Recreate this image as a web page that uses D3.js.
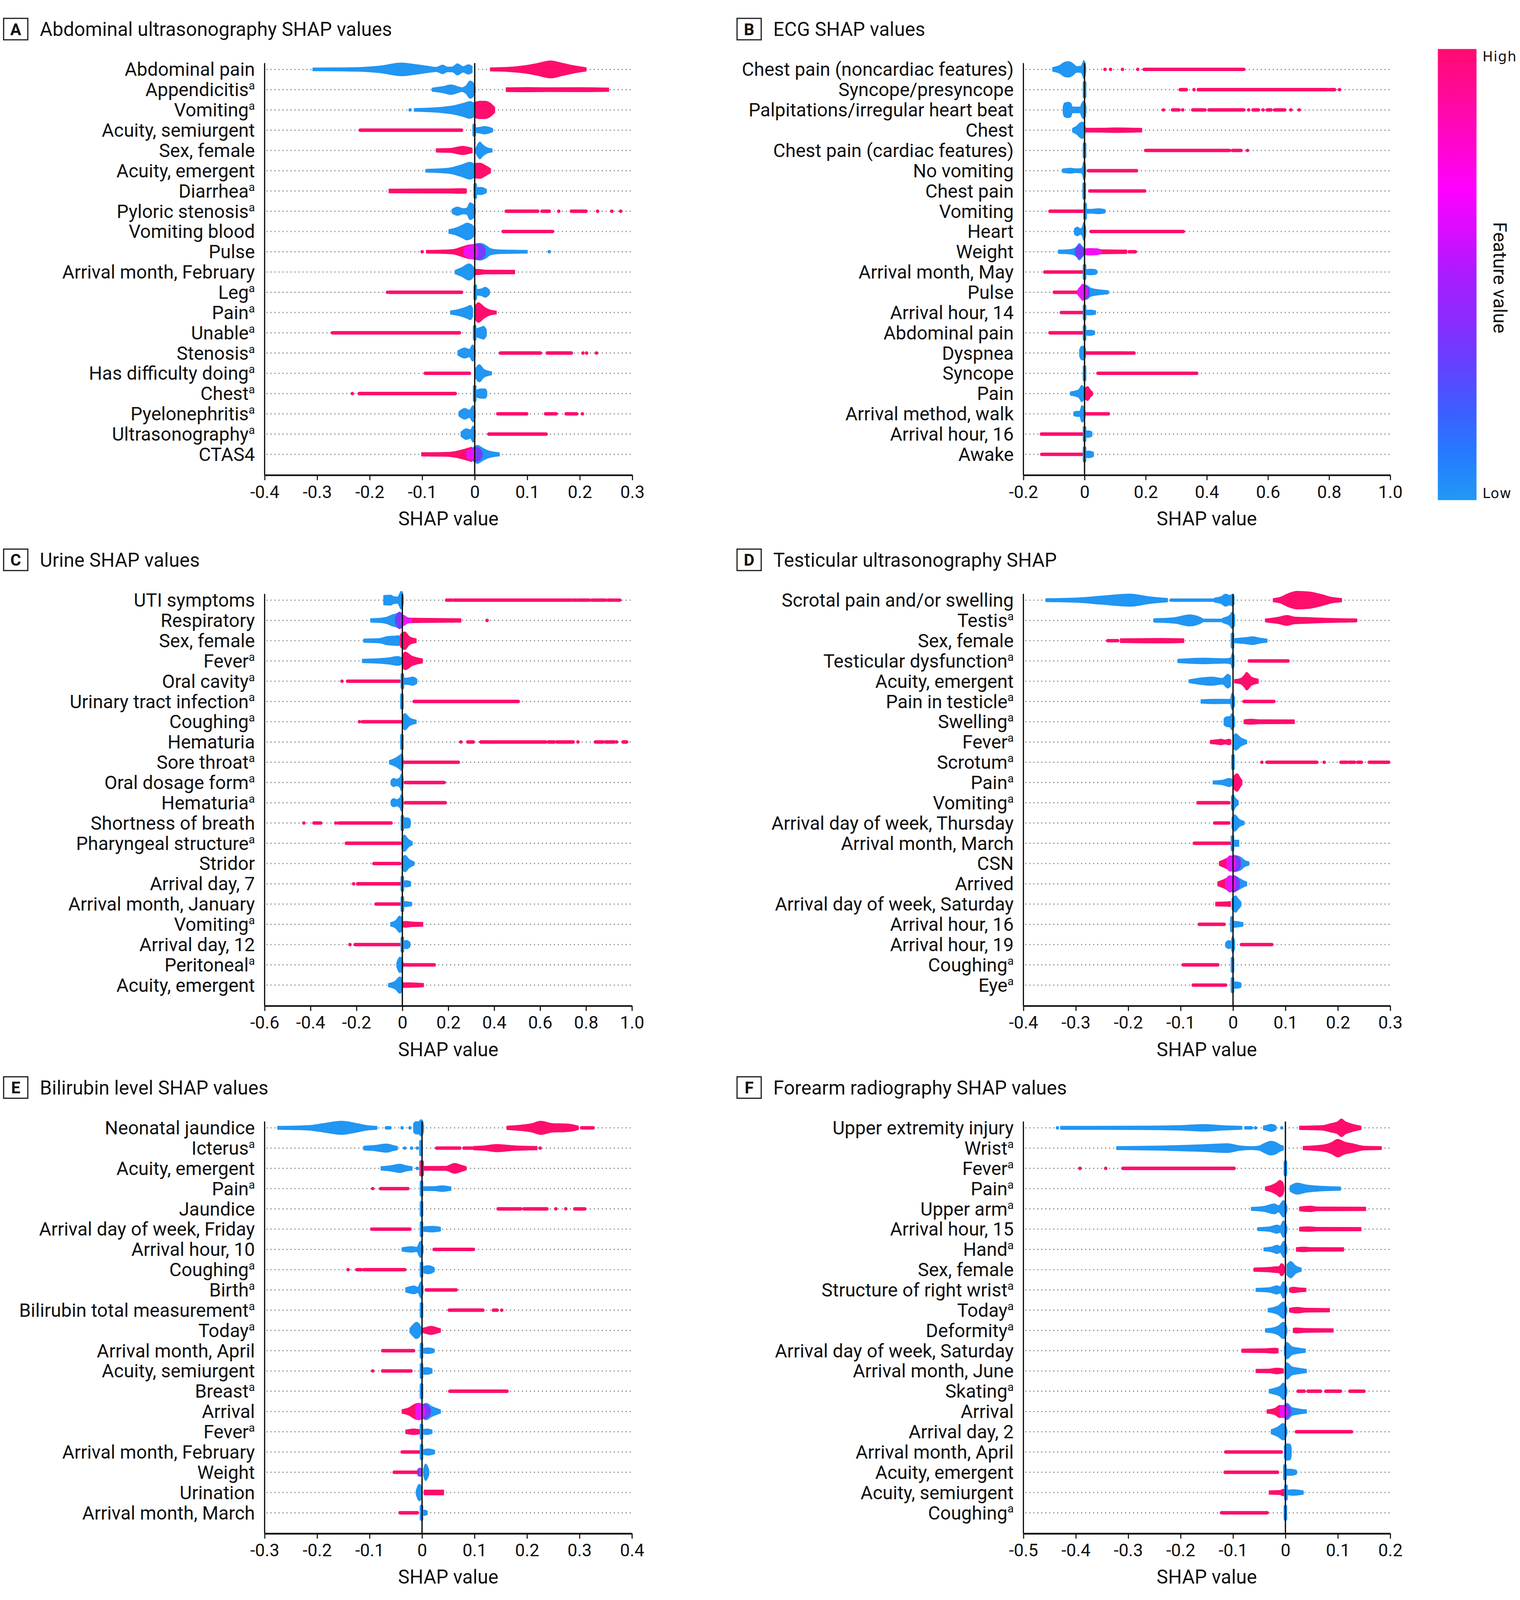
<!DOCTYPE html>
<html>
<head>
<meta charset="utf-8">
<script src="https://cdn.jsdelivr.net/npm/d3@7"></script>
<style>
  html, body { margin: 0; padding: 0; background: #fff; overflow: hidden; }
  svg { display: block; }
  text { font-family: Roboto, "Liberation Sans", sans-serif; fill: #111; }
</style>
</head>
<body>
<script>
// ---- data ---------------------------------------------------------------
// segment keys: h = high (red), l = low (blue), m / p = mid values (magenta / purple)
// suffix: none = density profile [x, density, x, density ...], "-" = run of points x0..x1,
// "." = single points, "!" = stacked column of points at x with a density
var titles = ["Abdominal ultrasonography SHAP values", "ECG SHAP values", "Urine SHAP values",
  "Testicular ultrasonography SHAP", "Bilirubin level SHAP values", "Forearm radiography SHAP values"];
var letters = ["A", "B", "C", "D", "E", "F"];

var ticksA = [-0.4, -0.3, -0.2, -0.1, 0, 0.1, 0.2, 0.3];
var ticksB = [-0.2, 0, 0.2, 0.4, 0.6, 0.8, 1.0];
var ticksC = [-0.6, -0.4, -0.2, 0, 0.2, 0.4, 0.6, 0.8, 1.0];
var ticksD = [-0.4, -0.3, -0.2, -0.1, 0, 0.1, 0.2, 0.3];
var ticksE = [-0.3, -0.2, -0.1, 0, 0.1, 0.2, 0.3, 0.4];
var ticksF = [-0.5, -0.4, -0.3, -0.2, -0.1, 0, 0.1, 0.2];

var labelsA = ["Abdominal pain", "Appendicitis^a", "Vomiting^a", "Acuity, semiurgent", "Sex, female",
  "Acuity, emergent", "Diarrhea^a", "Pyloric stenosis^a", "Vomiting blood", "Pulse",
  "Arrival month, February", "Leg^a", "Pain^a", "Unable^a", "Stenosis^a", "Has difficulty doing^a",
  "Chest^a", "Pyelonephritis^a", "Ultrasonography^a", "CTAS4"];
var shapesA = [
  [["l", -0.308,1.3, -0.25,1.5, -0.218,1.8, -0.18,3.2, -0.14,6.2, -0.11,4.5, -0.089,3, -0.073,2, -0.061,4.2, -0.052,2.2, -0.042,2.4, -0.033,5.4, -0.022,2.6, -0.012,4.6, -0.005,3],
   ["h", 0.03,1.5, 0.064,2, 0.096,3.6, 0.12,5.8, 0.144,8.3, 0.168,5.8, 0.192,3.2, 0.212,1.6]],
  [["l", -0.081,1.5, -0.06,3, -0.045,4.6, -0.033,3, -0.025,1.8, -0.016,4, -0.009,8.4, -0.002,6, 0.001,2],
   ["h", 0.06,1.8, 0.1,2, 0.14,1.8, 0.2,1.9, 0.255,1.6]],
  [["l.", -0.123], ["l", -0.115,1.3, -0.065,2.5, -0.041,4, -0.021,6.5, -0.009,8.2, 0.0,6],
   ["h", 0.001,7.5, 0.01,8.5, 0.019,8.5, 0.028,7, 0.038,2.5]],
  [["h-", -0.218, -0.025], ["l!", -0.001, 6.5], ["l", 0.0,2, 0.012,3, 0.019,3.6, 0.026,3, 0.034,1.5]],
  [["h", -0.073,1.6, -0.045,2, -0.03,3.5, -0.022,4, -0.012,3, -0.005,2.2],
   ["l", 0.002,2, 0.006,6, 0.01,8.2, 0.014,6, 0.022,3, 0.033,1.5]],
  [["l", -0.093,1.3, -0.049,2.5, -0.025,5.7, -0.009,8.2, 0.0,6],
   ["h", 0.0,7, 0.01,7.4, 0.02,5, 0.03,2]],
  [["h", -0.163,1.8, -0.05,2, -0.02,2.3, -0.016,2], ["l!", 0.001, 7.9], ["l", 0.001,3, 0.012,3.5, 0.022,1.6]],
  [["l", -0.043,1.8, -0.033,4, -0.022,2.5, -0.015,3, -0.009,8.2, -0.002,6, 0.001,2],
   ["h-", 0.06, 0.12], ["h-", 0.128, 0.142], ["h-", 0.184, 0.212], ["h.", 0.16, 0.234, 0.261, 0.278]],
  [["l", -0.049,1.8, -0.035,3.5, -0.022,6.5, -0.015,8.2, -0.007,7, 0.001,3], ["h-", 0.054, 0.148]],
  [["l", -0.01,3, 0.0,7, 0.01,8.2, 0.02,6.5, 0.03,3, 0.045,1.8, 0.07,1.5, 0.1,1.3], ["l.", 0.142],
   ["h.", -0.1], ["h", -0.092,1.3, -0.06,1.6, -0.04,2.2, -0.025,4.5, -0.012,6.5, -0.002,7],
   ["p", -0.01,3, 0.0,7.5, 0.012,7, 0.02,3], ["m", -0.02,3, -0.01,6, -0.002,7, 0.006,4]],
  [["l", -0.037,1.7, -0.024,4.4, -0.011,7.9, -0.003,5, 0.0,2], ["h", 0.002,2.6, 0.01,2.4, 0.02,1.8, 0.076,1.7]],
  [["h.", -0.166], ["h-", -0.162, -0.025], ["l!", 0.001, 7.9], ["l", 0.001,2.5, 0.014,3.5, 0.02,4.9, 0.028,2]],
  [["l", -0.046,1.5, -0.03,3, -0.015,5.5, -0.008,7, -0.004,4], ["h", 0.0,6, 0.007,9.6, 0.018,5.3, 0.028,2.6, 0.041,1.4]],
  [["h-", -0.271, -0.029], ["l!", 0.0, 7.9], ["l", 0.0,3, 0.012,5.5, 0.017,6.2, 0.022,3]],
  [["l", -0.032,2, -0.019,4.9, -0.01,3.5, -0.004,7.9, 0.001,3],
   ["h-", 0.049, 0.125], ["h-", 0.138, 0.184], ["h.", 0.206, 0.213, 0.232]],
  [["h-", -0.094, -0.01], ["l", 0.001,4, 0.009,8.4, 0.017,4, 0.032,1.5]],
  [["h.", -0.233], ["h-", -0.22, -0.037], ["l!", 0.0, 8.4], ["l", 0.0,2.5, 0.012,4.5, 0.02,4.5, 0.023,2]],
  [["l", -0.03,2, -0.019,5.2, -0.01,3.5, -0.003,7.9, 0.001,3],
   ["h-", 0.044, 0.099], ["h-", 0.135, 0.155], ["h-", 0.174, 0.194], ["h.", 0.205]],
  [["l", -0.026,2, -0.016,5.2, -0.008,4, -0.003,7.9, 0.001,3], ["h-", 0.027, 0.136]],
  [["h", -0.101,1.6, -0.06,1.8, -0.04,2.5, -0.019,5, -0.006,7],
   ["l", -0.005,4, 0.005,8.8, 0.015,6, 0.025,3.5, 0.047,1.5],
   ["p", -0.01,3, 0.0,7, 0.008,6, 0.014,2], ["m", -0.015,3, -0.007,5, 0.0,4]]
];

var labelsB = ["Chest pain (noncardiac features)", "Syncope/presyncope", "Palpitations/irregular heart beat",
  "Chest", "Chest pain (cardiac features)", "No vomiting", "Chest pain", "Vomiting", "Heart", "Weight",
  "Arrival month, May", "Pulse", "Arrival hour, 14", "Abdominal pain", "Dyspnea", "Syncope", "Pain",
  "Arrival method, walk", "Arrival hour, 16", "Awake"];
var shapesB = [
  [["l", -0.104,1.8, -0.08,4, -0.065,7, -0.052,7.5, -0.04,6, -0.025,2.7, -0.012,3, -0.006,6, -0.003,8.6, 0.002,6, 0.004,1.5],
   ["h.", 0.067, 0.085, 0.124, 0.174], ["h-", 0.195, 0.244], ["h-", 0.248, 0.521]],
  [["l!", 0.0, 8.6], ["h-", 0.313, 0.333], ["h.", 0.358, 0.834], ["h-", 0.372, 0.793], ["h-", 0.8, 0.818]],
  [["l", -0.07,2.5, -0.066,6.5, -0.054,7.5, -0.045,6.5, -0.04,2.7, -0.015,2.7, -0.008,7, -0.003,8.6, 0.003,6, 0.005,1.5],
   ["h.", 0.258, 0.321, 0.537, 0.584, 0.675, 0.702], ["h-", 0.288, 0.309], ["h-", 0.354, 0.394],
   ["h-", 0.407, 0.521], ["h-", 0.551, 0.569], ["h-", 0.598, 0.61], ["h-", 0.622, 0.655]],
  [["l", -0.039,1.8, -0.025,4, -0.015,7, -0.008,8, -0.002,7, 0.003,2], ["h", 0.005,1.8, 0.06,1.9, 0.1,2.2, 0.13,2.1, 0.187,1.7]],
  [["l!", 0.0, 8], ["h-", 0.2, 0.474], ["h-", 0.484, 0.512], ["h.", 0.533]],
  [["l", -0.072,1.6, -0.055,2.2, -0.046,2.4, -0.03,1.8, -0.012,2, -0.006,4, -0.003,8.6, 0.002,7, 0.004,1.5], ["h-", 0.013, 0.17]],
  [["l!", -0.001, 8.6], ["h-", 0.017, 0.197]],
  [["h-", -0.113, -0.007], ["l!", 0.002, 8.6], ["l", 0.002,2, 0.02,1.8, 0.044,2.4, 0.06,2, 0.067,1.5]],
  [["l", -0.033,2.5, -0.023,4.3, -0.014,2.5, -0.006,5, -0.003,8.6, 0.002,6, 0.004,1.5], ["h-", 0.021, 0.323]],
  [["l", -0.085,1.6, -0.06,1.8, -0.04,2.5, -0.025,5, -0.017,8, -0.01,6, 0.0,2.5],
   ["p", -0.03,2, -0.018,6.5, -0.008,4, 0.0,2],
   ["h", -0.002,2, 0.01,2.5, 0.04,2, 0.138,1.6], ["h-", 0.146, 0.166],
   ["m", 0.0,2.5, 0.012,3.2, 0.04,3, 0.055,1.8]],
  [["h-", -0.13, -0.007], ["l!", 0.0, 8], ["l", 0.0,2, 0.02,2.7, 0.035,2.3, 0.04,1.5]],
  [["h-", -0.099, -0.02], ["l", -0.02,2, -0.005,5, 0.005,7, 0.02,4, 0.04,2.7, 0.06,2, 0.078,1.5],
   ["p", -0.015,3, -0.006,7, 0.005,6, 0.015,3], ["m", -0.022,2.5, -0.012,6, -0.006,8, 0.0,6, 0.008,3]],
  [["h-", -0.076, -0.007], ["l!", 0.0, 8], ["l", 0.0,2, 0.02,2.3, 0.036,1.5]],
  [["h-", -0.113, -0.007], ["l!", 0.0, 8], ["l", 0.0,2, 0.02,2.5, 0.033,1.5]],
  [["l", -0.016,3, -0.01,6.5, -0.003,6.7, 0.002,5, 0.004,1.5], ["h-", 0.005, 0.139], ["h-", 0.146, 0.162]],
  [["l!", 0.0, 8], ["h-", 0.044, 0.367]],
  [["l", -0.046,1.6, -0.03,2.5, -0.018,4, -0.009,8, -0.003,6], ["h", 0.0,5, 0.01,6.7, 0.02,3, 0.026,1.6]],
  [["l", -0.035,1.6, -0.025,2.5, -0.015,2.5, -0.009,8, -0.003,7, 0.003,1.5], ["h-", 0.007, 0.078]],
  [["h-", -0.141, -0.007], ["l!", 0.0, 8], ["l", 0.0,2.5, 0.012,3.2, 0.024,2]],
  [["h-", -0.14, -0.007], ["l!", 0.0, 8], ["l", 0.0,2.5, 0.015,3.2, 0.029,2]]
];

var labelsC = ["UTI symptoms", "Respiratory", "Sex, female", "Fever^a", "Oral cavity^a",
  "Urinary tract infection^a", "Coughing^a", "Hematuria", "Sore throat^a", "Oral dosage form^a",
  "Hematuria^a", "Shortness of breath", "Pharyngeal structure^a", "Stridor", "Arrival day, 7",
  "Arrival month, January", "Vomiting^a", "Arrival day, 12", "Peritoneal^a", "Acuity, emergent"];
var shapesC = [
  [["l", -0.081,4.5, -0.05,4.8, -0.04,3.5, -0.02,3, -0.012,6, -0.006,8.6, 0.0,8, 0.004,2],
   ["h-", 0.193, 0.215], ["h-", 0.225, 0.733], ["h-", 0.742, 0.756], ["h-", 0.764, 0.814],
   ["h-", 0.825, 0.885], ["h-", 0.896, 0.923], ["h-", 0.931, 0.947]],
  [["l", -0.138,1.6, -0.1,2, -0.07,3, -0.043,5.4, -0.02,7, -0.012,8, 0.0,5, 0.01,2],
   ["h", -0.005,2, 0.02,2.2, 0.08,2, 0.255,1.6], ["h.", 0.369],
   ["p", -0.03,2.5, -0.013,8, 0.0,6, 0.01,2], ["m", -0.005,3, 0.005,5, 0.02,3, 0.04,2]],
  [["l", -0.168,1.6, -0.1,2.1, -0.065,4, -0.03,4.5, -0.015,4.8, -0.008,2], ["h", -0.008,6, 0.011,8.6, 0.03,4, 0.06,1.8]],
  [["l", -0.174,1.6, -0.12,2, -0.06,3, -0.02,4.3, -0.002,3], ["h", 0.0,6, 0.013,8.6, 0.04,4.8, 0.087,2]],
  [["h.", -0.263], ["h-", -0.239, -0.014], ["l!", 0.0, 8], ["l", 0.0,3, 0.02,3, 0.045,4, 0.063,2]],
  [["l!", -0.002, 8], ["h-", 0.051, 0.505]],
  [["h.", -0.187], ["h-", -0.174, -0.005], ["l", 0.0,5, 0.011,8, 0.03,4, 0.06,1.6]],
  [["l!", -0.002, 8], ["h.", 0.255, 0.765, 0.933], ["h-", 0.285, 0.309], ["h-", 0.342, 0.407],
   ["h-", 0.412, 0.624], ["h-", 0.635, 0.662], ["h-", 0.673, 0.744], ["h-", 0.841, 0.874],
   ["h-", 0.885, 0.923], ["h-", 0.961, 0.977]],
  [["l", -0.056,1.6, -0.03,4, -0.01,7, -0.005,8, 0.002,6, 0.004,1.5], ["h-", 0.009, 0.244]],
  [["l", -0.049,2, -0.038,4, -0.025,3, -0.01,5, -0.005,8, 0.002,6, 0.004,1.5], ["h-", 0.013, 0.182]],
  [["l", -0.049,2, -0.038,4, -0.025,3, -0.01,5, -0.005,8, 0.002,6, 0.004,1.5], ["h-", 0.013, 0.187]],
  [["h.", -0.429, -0.29], ["h-", -0.385, -0.356], ["h-", -0.277, -0.049],
   ["l!", 0.0, 8], ["l", 0.0,5, 0.015,5, 0.03,4.5, 0.035,2]],
  [["h-", -0.244, -0.009], ["l", -0.002,5, 0.009,8, 0.025,4, 0.043,1.6]],
  [["h-", -0.124, -0.011], ["l", -0.002,5, 0.011,8, 0.03,4, 0.051,1.6]],
  [["h.", -0.212], ["h-", -0.195, -0.009], ["l!", 0.0, 8], ["l", 0.0,2.5, 0.02,3, 0.036,2]],
  [["h-", -0.115, -0.009], ["l!", 0.0, 8], ["l", 0.0,2.5, 0.02,2.3, 0.041,1.5]],
  [["l", -0.051,1.6, -0.03,3.5, -0.011,8, -0.002,6], ["h", 0.0,2.5, 0.011,2.8, 0.04,2.2, 0.089,1.8]],
  [["h.", -0.228], ["h-", -0.206, -0.013], ["l!", 0.0, 8], ["l", 0.0,3, 0.02,4, 0.033,2]],
  [["l", -0.024,2, -0.011,7.5, -0.003,7, 0.003,2], ["h-", 0.008, 0.139]],
  [["l", -0.06,1.6, -0.03,4, -0.011,8, -0.002,6, 0.003,2], ["h", 0.0,2, 0.02,2.2, 0.06,2, 0.092,1.6]]
];

var labelsD = ["Scrotal pain and/or swelling", "Testis^a", "Sex, female", "Testicular dysfunction^a",
  "Acuity, emergent", "Pain in testicle^a", "Swelling^a", "Fever^a", "Scrotum^a", "Pain^a", "Vomiting^a",
  "Arrival day of week, Thursday", "Arrival month, March", "CSN", "Arrived", "Arrival day of week, Saturday",
  "Arrival hour, 16", "Arrival hour, 19", "Coughing^a", "Eye^a"];
var shapesD = [
  [["l", -0.357,1.4, -0.297,2.1, -0.249,4, -0.197,5.9, -0.159,3.2, -0.125,1.6],
   ["l-", -0.118, -0.087], ["l-", -0.084, -0.058], ["l-", -0.055, -0.035],
   ["l", -0.035,2, -0.022,3.5, -0.014,5.9, -0.006,4.5, -0.002,5.5, 0.002,4],
   ["h", 0.077,1.6, 0.09,2.7, 0.107,6.7, 0.122,8.6, 0.145,8, 0.169,5.4, 0.188,2.7, 0.207,1.6]],
  [["l", -0.151,1.6, -0.111,2.7, -0.083,5.4, -0.062,2.7, -0.058,1.6], ["l-", -0.057, -0.02],
   ["l", -0.02,2, -0.016,2.7, -0.006,5, -0.002,8, 0.003,5],
   ["h", 0.062,1.4, 0.088,3.2, 0.103,4.8, 0.118,3.2, 0.145,2.7, 0.18,2, 0.236,1.4]],
  [["h-", -0.239, -0.22], ["h", -0.215,1.8, -0.135,2.2, -0.094,1.8],
   ["l!", -0.001, 8], ["l", 0.003,2, 0.025,3, 0.038,3.8, 0.05,2.5, 0.065,1.5]],
  [["l", -0.105,1.6, -0.054,2.7, -0.015,2.1, -0.004,3, -0.001,8, 0.002,5], ["h-", 0.031, 0.105]],
  [["l", -0.084,1.3, -0.04,4, -0.02,2.7, -0.01,6.7, -0.005,5],
   ["h", 0.003,1.6, 0.015,2.7, 0.022,6, 0.026,8.6, 0.035,4, 0.048,2]],
  [["l", -0.061,1.6, -0.035,2.1, -0.005,2, -0.002,8, 0.003,4], ["h-", 0.021, 0.078]],
  [["l", -0.017,3, -0.012,4.8, -0.006,5, -0.002,8, 0.003,4], ["h", 0.021,1.8, 0.034,2.4, 0.05,1.9, 0.117,1.8]],
  [["h", -0.043,1.6, -0.03,2.2, -0.023,2.7, -0.015,1.8, -0.008,2.7, -0.004,2], ["l", 0.0,5, 0.005,8, 0.015,4, 0.026,1.6]],
  [["l!", 0.0, 8], ["h.", 0.055, 0.174], ["h-", 0.065, 0.16], ["h-", 0.206, 0.217], ["h-", 0.221, 0.232],
   ["h-", 0.238, 0.245], ["h-", 0.26, 0.297]],
  [["l", -0.038,1.5, -0.02,2.2, -0.007,4, -0.002,3], ["h", 0.001,6, 0.008,8.6, 0.013,5, 0.017,2]],
  [["h-", -0.067, -0.008], ["l", -0.003,6, 0.0,8, 0.005,4, 0.01,2]],
  [["h-", -0.035, -0.008], ["l", -0.002,5, 0.003,8, 0.012,3.5, 0.021,1.6]],
  [["h-", -0.074, -0.007], ["l!", -0.001, 8], ["l", 0.0,3, 0.011,3]],
  [["h", -0.026,1.8, -0.016,4, -0.01,5.5, -0.004,7, 0.002,5], ["l", -0.004,4, 0.005,7.5, 0.015,6, 0.022,3, 0.03,1.8],
   ["p", -0.006,5, 0.002,8, 0.01,6, 0.014,3], ["m", -0.012,4, -0.006,7.5, 0.0,7, 0.005,3]],
  [["h", -0.029,1.8, -0.018,4, -0.01,6, -0.004,7, 0.002,5], ["l", -0.004,4, 0.005,7, 0.013,5, 0.02,3, 0.026,1.8],
   ["p", -0.006,5, 0.002,8, 0.008,6, 0.012,3], ["m", -0.014,4, -0.006,8, 0.0,7, 0.004,3]],
  [["h", -0.033,1.8, -0.01,2.2, -0.005,2.5], ["l", -0.002,5, 0.005,8, 0.01,5, 0.015,2]],
  [["h-", -0.064, -0.017], ["l!", -0.002, 8], ["l", 0.0,3, 0.01,2.5, 0.019,1.6]],
  [["l", -0.014,2, -0.008,4, -0.004,3, -0.001,8, 0.003,4], ["h-", 0.016, 0.074]],
  [["h-", -0.095, -0.029], ["l!", -0.001, 8]],
  [["h-", -0.076, -0.014], ["l!", -0.001, 8], ["l", 0.0,3, 0.008,3, 0.015,2]]
];

var labelsE = ["Neonatal jaundice", "Icterus^a", "Acuity, emergent", "Pain^a", "Jaundice",
  "Arrival day of week, Friday", "Arrival hour, 10", "Coughing^a", "Birth^a", "Bilirubin total measurement^a",
  "Today^a", "Arrival month, April", "Acuity, semiurgent", "Breast^a", "Arrival", "Fever^a",
  "Arrival month, February", "Weight", "Urination", "Arrival month, March"];
var shapesE = [
  [["l", -0.275,1.4, -0.218,2.1, -0.189,4, -0.154,6.4, -0.123,4, -0.104,2.1, -0.086,1.4],
   ["l-", -0.068, -0.061], ["l.", -0.038, -0.023],
   ["l", -0.016,4, -0.012,5.9, -0.006,6, -0.002,8, 0.001,7, 0.003,2],
   ["h", 0.162,1.6, 0.19,2.7, 0.209,4, 0.226,6.4, 0.25,4, 0.271,3.8, 0.285,3.2, 0.298,1.6], ["h-", 0.304, 0.326]],
  [["l", -0.111,1.8, -0.09,2.5, -0.068,4, -0.055,2.5, -0.047,1.6], ["l.", -0.033, -0.02, -0.009], ["l!", -0.002, 8],
   ["h-", 0.028, 0.072], ["h-", 0.08, 0.095], ["h", 0.098,1.6, 0.12,2.2, 0.143,3.5, 0.17,2.4, 0.219,1.6], ["h.", 0.225]],
  [["l", -0.078,1.6, -0.06,2.5, -0.042,4, -0.03,2.5, -0.019,1.6], ["l.", -0.009], ["l!", -0.002, 8],
   ["h!", 0.0, 8], ["h", 0.003,1.8, 0.045,1.9, 0.062,4.8, 0.075,3, 0.084,1.6]],
  [["h.", -0.094], ["h-", -0.079, -0.027], ["l!", -0.001, 8], ["l", 0.0,1.8, 0.025,2, 0.038,2.7, 0.055,1.6]],
  [["l!", -0.001, 8], ["h-", 0.145, 0.188], ["h-", 0.194, 0.209], ["h-", 0.212, 0.238], ["h.", 0.255, 0.274], ["h-", 0.291, 0.31]],
  [["h-", -0.096, -0.023], ["l!", -0.001, 8], ["l", 0.0,2, 0.02,2.7, 0.035,1.8]],
  [["l", -0.038,1.6, -0.02,2.7, -0.01,2, -0.003,8, 0.002,3], ["h-", 0.023, 0.098]],
  [["h.", -0.141], ["h-", -0.124, -0.116], ["h-", -0.111, -0.033], ["l!", -0.001, 8], ["l", 0.0,2.5, 0.012,4, 0.023,2]],
  [["l", -0.031,2, -0.015,3.8, -0.008,2.5, -0.002,8, 0.002,3], ["h-", 0.008, 0.065]],
  [["l!", -0.001, 8], ["h-", 0.052, 0.116], ["h-", 0.136, 0.143], ["h.", 0.152]],
  [["l", -0.023,2, -0.016,6, -0.011,8, -0.005,6, -0.001,2], ["h", 0.001,2, 0.008,3, 0.017,4, 0.026,3, 0.035,1.6]],
  [["h-", -0.075, -0.016], ["l!", -0.001, 8], ["l", 0.0,2, 0.012,2.7, 0.023,1.6]],
  [["h.", -0.094], ["h-", -0.075, -0.021], ["l!", -0.001, 8], ["l", 0.0,3, 0.01,3.2, 0.019,2]],
  [["l!", -0.001, 8], ["h-", 0.053, 0.162]],
  [["h", -0.038,1.8, -0.025,3.5, -0.014,7, -0.006,8, 0.0,6], ["l", -0.004,4, 0.008,8, 0.018,5, 0.035,1.6],
   ["p", -0.004,4, 0.004,7, 0.012,5, 0.016,2], ["m", -0.012,5, -0.006,8, 0.0,7, 0.005,3]],
  [["h", -0.031,1.6, -0.015,2.7, -0.006,2, -0.003,1.6], ["l!", -0.001, 8], ["l", 0.0,2, 0.01,2.7, 0.019,1.6]],
  [["h-", -0.038, -0.003], ["l!", -0.001, 8], ["l", 0.0,2, 0.012,3, 0.024,1.6]],
  [["h-", -0.053, -0.008], ["p", -0.008,3, -0.004,4, 0.0,3], ["l", 0.003,3, 0.007,8, 0.011,5, 0.013,2]],
  [["l", -0.011,2, -0.005,8, 0.0,5], ["h", 0.004,2.3, 0.041,2.3]],
  [["h-", -0.042, -0.009], ["l!", -0.001, 8], ["l", 0.0,2, 0.005,2.5, 0.01,1.6]]
];

var labelsF = ["Upper extremity injury", "Wrist^a", "Fever^a", "Pain^a", "Upper arm^a", "Arrival hour, 15",
  "Hand^a", "Sex, female", "Structure of right wrist^a", "Today^a", "Deformity^a",
  "Arrival day of week, Saturday", "Arrival month, June", "Skating^a", "Arrival", "Arrival day, 2",
  "Arrival month, April", "Acuity, emergent", "Acuity, semiurgent", "Coughing^a"];
var shapesF = [
  [["l.", -0.435], ["l", -0.429,1.4, -0.278,1.6, -0.206,2.1, -0.154,3.2, -0.12,2.1, -0.083,1.4],
   ["l-", -0.076, -0.065], ["l.", -0.057, -0.007],
   ["l", -0.042,1.6, -0.035,2.5, -0.028,3.5, -0.02,2.5, -0.018,1.6],
   ["h", 0.027,1.6, 0.069,2.1, 0.086,4, 0.1,6, 0.107,8.6, 0.114,6, 0.125,4, 0.144,1.6]],
  [["l", -0.322,1.4, -0.23,2.1, -0.159,3.2, -0.111,4.3, -0.087,2.1, -0.065,1.4, -0.05,2, -0.042,4, -0.028,6.7, -0.018,5.5, -0.01,3, -0.004,2],
   ["h", 0.034,1.6, 0.074,3.2, 0.088,5.4, 0.1,8.6, 0.112,6, 0.13,4, 0.15,1.8, 0.183,1.4]],
  [["h.", -0.392, -0.343], ["h-", -0.31, -0.098], ["l!", 0.0, 8]],
  [["h", -0.038,1.6, -0.025,3.5, -0.016,6, -0.011,8, -0.005,6, -0.003,2],
   ["l", 0.009,2.5, 0.022,5.4, 0.04,3.5, 0.06,2.5, 0.105,1.6]],
  [["l", -0.065,1.4, -0.04,2.5, -0.021,4.8, -0.013,3, -0.004,8, 0.001,5, 0.003,1.5],
   ["h", 0.027,1.8, 0.04,2.5, 0.048,2.7, 0.06,1.8, 0.153,1.6]],
  [["l", -0.053,1.4, -0.03,2.2, -0.016,4, -0.01,3, -0.004,8, 0.001,5, 0.003,1.5],
   ["h", 0.027,1.8, 0.045,2.2, 0.06,1.7, 0.144,1.6]],
  [["l", -0.041,1.4, -0.025,2.5, -0.016,4, -0.01,3, -0.003,8, 0.001,5, 0.003,1.5],
   ["h", 0.021,1.7, 0.036,2.2, 0.05,1.7, 0.111,1.6]],
  [["h", -0.06,1.6, -0.03,2.2, -0.021,2.7, -0.012,3, -0.008,5.9, -0.004,5, -0.002,2],
   ["l", 0.003,5, 0.01,8, 0.02,3.5, 0.03,1.6]],
  [["l", -0.056,1.5, -0.03,2.2, -0.016,4, -0.01,3, -0.004,8, 0.001,5, 0.003,1.5],
   ["h", 0.008,1.8, 0.015,2.7, 0.025,2, 0.039,1.6]],
  [["l", -0.033,1.6, -0.02,3, -0.013,4.5, -0.004,8, 0.001,5, 0.003,1.5], ["h", 0.008,1.8, 0.022,2.7, 0.04,1.8, 0.084,1.6]],
  [["l", -0.038,1.6, -0.02,3, -0.013,4.5, -0.004,8, 0.001,5, 0.003,1.5], ["h", 0.015,2, 0.02,2.4, 0.04,1.8, 0.091,1.6]],
  [["h", -0.083,1.6, -0.04,1.8, -0.02,2.4, -0.014,2], ["l", -0.002,4, 0.003,8, 0.012,4, 0.025,2.5, 0.038,1.6]],
  [["h", -0.056,1.6, -0.03,1.8, -0.016,2.7, -0.004,2], ["l", -0.001,4, 0.003,8, 0.012,4, 0.028,2.5, 0.04,1.6]],
  [["l", -0.031,1.6, -0.02,3, -0.01,5, -0.004,8, 0.001,5, 0.003,1.5],
   ["h-", 0.024, 0.036], ["h-", 0.043, 0.067], ["h-", 0.077, 0.105], ["h-", 0.123, 0.15]],
  [["h", -0.035,1.6, -0.02,3, -0.011,5.9, -0.004,5, 0.0,3], ["l", -0.002,4, 0.003,8, 0.012,4, 0.025,2.5, 0.04,1.6],
   ["p", -0.004,4, 0.0,7, 0.006,5, 0.01,2], ["m", -0.01,4, -0.005,6, 0.0,5, 0.003,2]],
  [["l", -0.027,2, -0.015,4.5, -0.004,8, 0.001,5, 0.003,1.5], ["h-", 0.021, 0.126]],
  [["h-", -0.114, -0.008], ["l", -0.002,6, 0.003,8, 0.009,7.5, 0.011,4]],
  [["h-", -0.115, -0.015], ["l!", -0.001, 8], ["l", 0.0,3, 0.01,3, 0.021,1.8]],
  [["h", -0.031,1.6, -0.01,2, -0.004,3.2, -0.001,2], ["l!", 0.001, 8], ["l", 0.002,2, 0.015,2.7, 0.034,1.6]],
  [["h-", -0.122, -0.035], ["l!", 0.0, 8]]
];

// ---- drawing ------------------------------------------------------------
// layout is laid out on a 1258 x 1567.6 grid and stretched to whatever the window offers
var W = window.innerWidth || 3892, H = Math.min(window.innerHeight || 4850, 4850);
var sx = W / 1258, sy = H / 1567.6, fs = sx;
function X(v) { return v * sx; }
function Y(v) { return v * sy; }
function F(v) { return (v * fs) + "px"; }

var svg = d3.select("body").append("svg").attr("width", W).attr("height", H);
svg.append("rect").attr("width", W).attr("height", H).attr("fill", "#fff");

var colors = { h: "#ff0d6c", l: "#2196f3", m: "#f012ff", p: "#7d34ff" };
var thick = d3.scaleLinear().domain([0, 10]).range([0, Y(10)]);
var baseDensity = 1.7;
var rowGap = 19.85;

var panels = [
  { labels: labelsA, shapes: shapesA, ticks: ticksA, bx: 3, top: 68, L: 219, R: 523.3 },
  { labels: labelsB, shapes: shapesB, ticks: ticksB, bx: 610, top: 68, L: 847, R: 1150.6 },
  { labels: labelsC, shapes: shapesC, ticks: ticksC, bx: 3, top: 588, L: 219, R: 523 },
  { labels: labelsD, shapes: shapesD, ticks: ticksD, bx: 610, top: 588, L: 847, R: 1150.6 },
  { labels: labelsE, shapes: shapesE, ticks: ticksE, bx: 3, top: 1105, L: 219, R: 523 },
  { labels: labelsF, shapes: shapesF, ticks: ticksF, bx: 610, top: 1105, L: 847, R: 1150.6 }
];

function fmt(d) {
  if (d === 0) return "0";
  return (d < 0 ? "-" : "") + Math.abs(d).toFixed(1);
}

panels.forEach(function (p, pi) {
  var g = svg.append("g");
  var n = p.labels.length;
  var x = d3.scaleLinear().domain(d3.extent(p.ticks)).range([X(p.L), X(p.R)]);
  var y = d3.scaleLinear().domain([0, n - 1]).range([Y(p.top), Y(p.top + (n - 1) * rowGap)]);
  var axisY = y(n - 1) + Y(20.3);
  var plotTop = y(0) - Y(6.2);

  // panel letter box + title
  g.append("rect").attr("x", X(p.bx)).attr("y", Y(p.top - 50)).attr("width", X(20)).attr("height", Y(21))
    .attr("fill", "none").attr("stroke", "#222").attr("stroke-width", fs);
  g.append("text").attr("x", X(p.bx + 10)).attr("y", Y(p.top - 39.5)).attr("dy", "0.36em")
    .attr("text-anchor", "middle").style("font-size", F(13.5)).style("font-weight", "bold").text(letters[pi]);
  g.append("text").attr("x", X(p.bx + 30)).attr("y", Y(p.top - 39.5)).attr("dy", "0.36em")
    .style("font-size", F(16)).text(titles[pi]);

  // dotted row guides
  g.selectAll(".grid").data(d3.range(n)).enter().append("line")
    .attr("x1", X(p.L + 2)).attr("x2", X(p.R)).attr("y1", function (i) { return y(i); }).attr("y2", function (i) { return y(i); })
    .attr("stroke", "#8a8a8a").attr("stroke-width", 1.1 * fs).attr("stroke-linecap", "round")
    .attr("stroke-dasharray", "0.01 " + X(3.3));

  // feature labels
  var lab = g.selectAll(".lab").data(p.labels).enter().append("text")
    .attr("x", X(p.L - 8)).attr("y", function (d, i) { return y(i); }).attr("dy", "0.35em")
    .attr("text-anchor", "end").style("font-size", F(15.5));
  lab.each(function (d) {
    var parts = d.split("^");
    var t = d3.select(this);
    t.append("tspan").text(parts[0]);
    if (parts[1]) t.append("tspan").attr("dy", -5.5 * fs).style("font-size", F(9.5)).text(parts[1]);
  });

  // shapes
  var marks = g.append("g");
  p.shapes.forEach(function (segs, i) {
    var cy = y(i);
    segs.forEach(function (seg) {
      var key = seg[0], c = colors[key[0]], kind = key.slice(1), v = seg.slice(1);
      var op = (key[0] === "m" || key[0] === "p") ? 0.9 : 1;
      if (kind === ".") {
        v.forEach(function (xv) {
          marks.append("circle").attr("cx", x(xv)).attr("cy", cy).attr("r", thick(baseDensity)).attr("fill", c);
        });
      } else if (kind === "-") {
        marks.append("line").attr("x1", x(v[0])).attr("x2", x(v[1])).attr("y1", cy).attr("y2", cy)
          .attr("stroke", c).attr("stroke-width", 2 * thick(baseDensity)).attr("stroke-linecap", "round");
      } else if (kind === "!") {
        var h = thick(v[1]);
        marks.append("rect").attr("x", x(v[0]) - X(1.5)).attr("y", cy - h).attr("width", X(3)).attr("height", 2 * h)
          .attr("rx", X(1.5)).attr("fill", c);
      } else {
        var pts = [];
        for (var j = 0; j < v.length; j += 2) pts.push([v[j], v[j + 1]]);
        var area = d3.area()
          .x(function (d) { return x(d[0]); })
          .y0(function (d) { return cy - thick(d[1]); })
          .y1(function (d) { return cy + thick(d[1]); })
          .curve(d3.curveMonotoneX);
        marks.append("path").attr("d", area(pts)).attr("fill", c).attr("fill-opacity", op)
          .attr("stroke", c).attr("stroke-opacity", op).attr("stroke-width", 0.8 * fs).attr("stroke-linejoin", "round");
      }
    });
  });

  // left spine, zero line
  g.append("line").attr("x1", X(p.L)).attr("x2", X(p.L)).attr("y1", plotTop).attr("y2", axisY)
    .attr("stroke", "#111").attr("stroke-width", fs);
  g.append("line").attr("x1", x(0)).attr("x2", x(0)).attr("y1", plotTop).attr("y2", axisY)
    .attr("stroke", "#111").attr("stroke-width", 1.1 * fs);

  // x axis
  var ax = g.append("g").attr("transform", "translate(0," + axisY + ")")
    .call(d3.axisBottom(x).tickValues(p.ticks).tickFormat(fmt).tickSize(Y(5)).tickSizeOuter(0));
  ax.select(".domain").attr("stroke", "#111").attr("stroke-width", 1.4 * fs);
  ax.selectAll(".tick line").attr("stroke", "#111").attr("stroke-width", 0.9 * fs);
  ax.selectAll(".tick text").attr("y", Y(16.2)).attr("dy", "0.36em").style("font-size", F(14.5))
    .style("font-family", "Roboto, 'Liberation Sans', sans-serif").attr("fill", "#111");
  g.append("text").attr("x", (x.range()[0] + x.range()[1]) / 2).attr("y", axisY + Y(42.4)).attr("dy", "0.36em")
    .attr("text-anchor", "middle").style("font-size", F(16)).text("SHAP value");
});

// colour bar
var grad = svg.append("defs").append("linearGradient").attr("id", "fv")
  .attr("x1", 0).attr("y1", 0).attr("x2", 0).attr("y2", 1);
var stops = [[0, "#ff0b70"], [0.12, "#ff08a2"], [0.24, "#ff04dc"], [0.31, "#ff00ff"], [0.42, "#d20eff"],
  [0.5, "#a91bff"], [0.6, "#8a2aff"], [0.7, "#6441ff"], [0.8, "#3d5dff"], [0.9, "#247cff"], [1, "#2199f5"]];
stops.forEach(function (s) { grad.append("stop").attr("offset", s[0]).attr("stop-color", s[1]); });
svg.append("rect").attr("x", X(1190)).attr("y", Y(48)).attr("width", X(32)).attr("height", Y(442)).attr("fill", "url(#fv)");
svg.append("text").attr("x", X(1227)).attr("y", Y(55)).attr("dy", "0.36em").style("font-family", "'DejaVu Sans', sans-serif")
  .style("font-size", F(11.5)).style("letter-spacing", (0.5 * fs) + "px").text("High");
svg.append("text").attr("x", X(1227)).attr("y", Y(483)).attr("dy", "0.36em").style("font-family", "'DejaVu Sans', sans-serif")
  .style("font-size", F(11.5)).style("letter-spacing", (0.5 * fs) + "px").text("Low");
svg.append("text").attr("transform", "translate(" + X(1236) + "," + Y(272) + ") rotate(90)").attr("text-anchor", "middle")
  .style("font-size", F(15.5)).text("Feature value");
</script>
</body>
</html>
